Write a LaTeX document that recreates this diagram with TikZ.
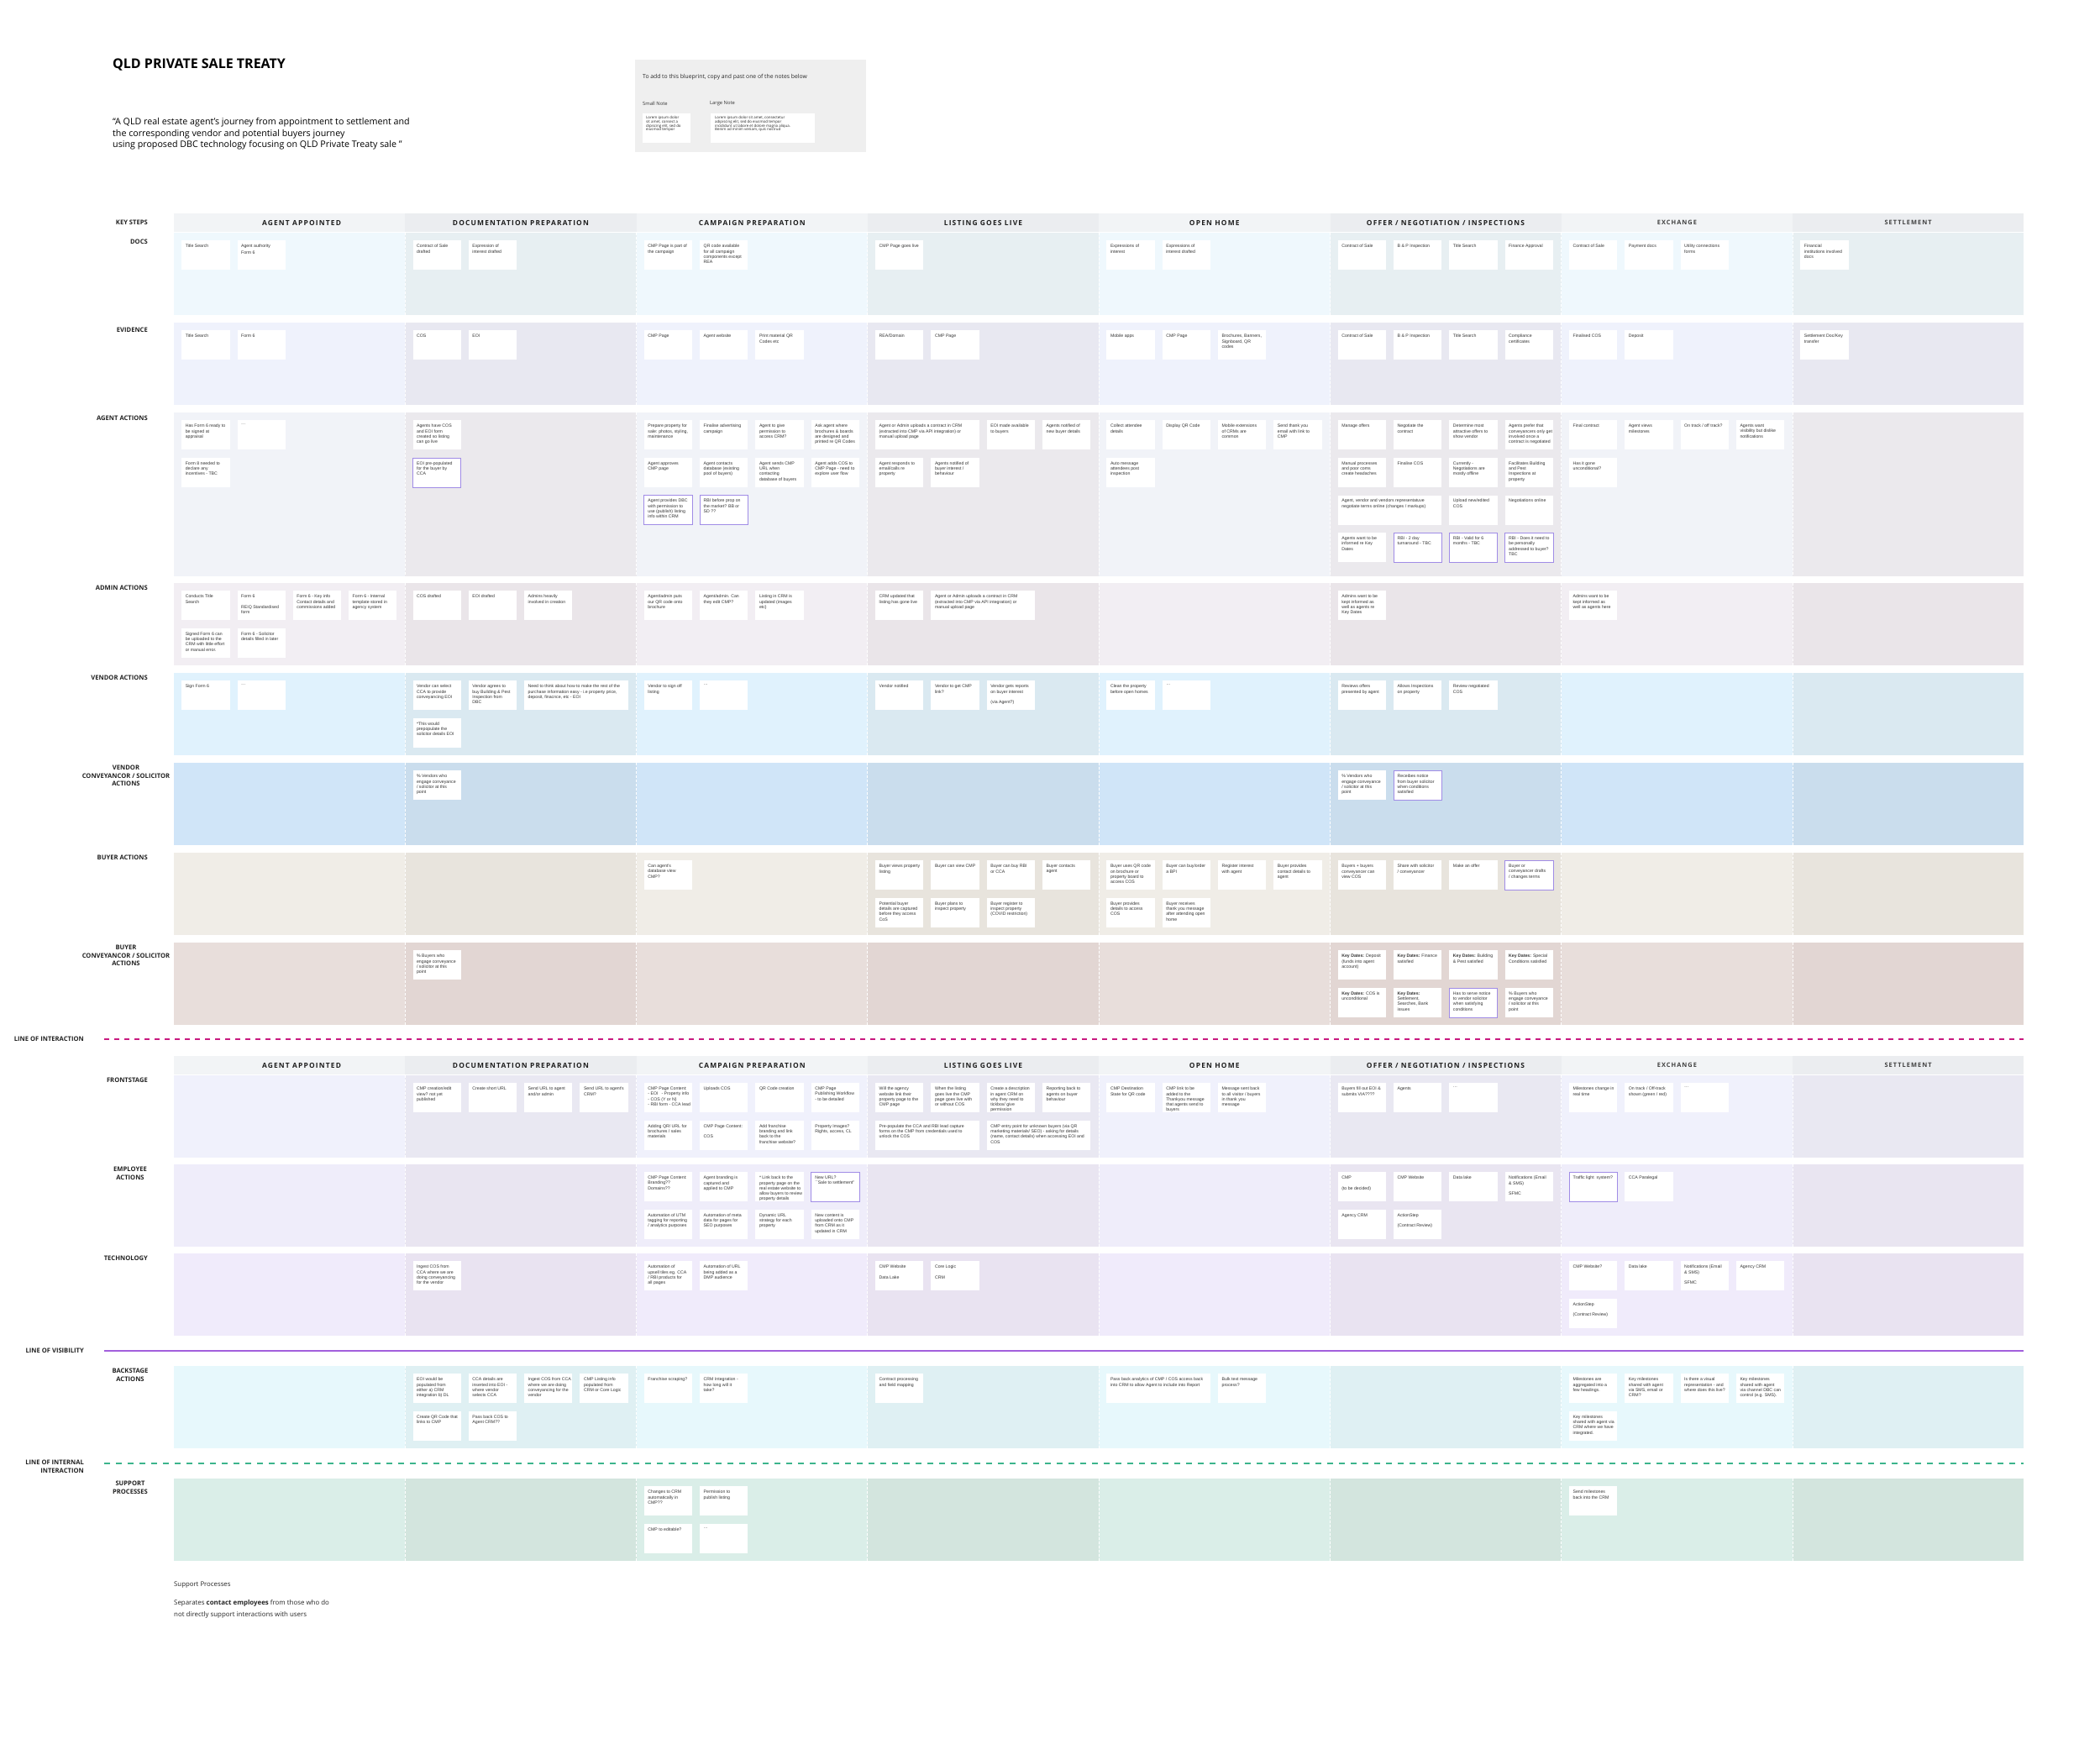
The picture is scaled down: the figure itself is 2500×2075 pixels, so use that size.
\documentclass[tikz,border=0pt]{standalone}
\usepackage{fontspec}
\setmainfont{Open Sans}
\newfontfamily\notefam{Liberation Sans}
\newfontfamily\spacedfam[LetterSpace=14]{Open Sans}
\usetikzlibrary{calc}

\definecolor{hdrE}{HTML}{F2F4F6}\definecolor{hdrO}{HTML}{EBEDF0}
\definecolor{docE}{HTML}{EFF8FD}\definecolor{docO}{HTML}{E7EFF2}
\definecolor{evE}{HTML}{EFF2FC}\definecolor{evO}{HTML}{E8E8F1}
\definecolor{agE}{HTML}{F1F3F8}\definecolor{agO}{HTML}{EBE9ED}
\definecolor{adE}{HTML}{F2EEF3}\definecolor{adO}{HTML}{EAE5E9}
\definecolor{veE}{HTML}{E0F2FD}\definecolor{veO}{HTML}{DAE9F1}
\definecolor{vcE}{HTML}{D0E5F8}\definecolor{vcO}{HTML}{CADDED}
\definecolor{buE}{HTML}{F0EDE7}\definecolor{buO}{HTML}{E8E4DD}
\definecolor{bcE}{HTML}{E8DEDB}\definecolor{bcO}{HTML}{E2D6D3}
\definecolor{frE}{HTML}{F0F1FC}\definecolor{frO}{HTML}{E9E8F2}
\definecolor{emE}{HTML}{EFEDFA}\definecolor{emO}{HTML}{E9E5F1}
\definecolor{teE}{HTML}{F0EBFB}\definecolor{teO}{HTML}{E9E3F1}
\definecolor{baE}{HTML}{E7F8FC}\definecolor{baO}{HTML}{DFF0F3}
\definecolor{suE}{HTML}{DAEEE8}\definecolor{suO}{HTML}{D3E5DE}
\definecolor{hlc}{HTML}{A08CE6}
\definecolor{notec}{HTML}{333333}
\definecolor{headc}{HTML}{1E1E1E}
\definecolor{lblc}{HTML}{222222}
\definecolor{boxc}{HTML}{EFEFEF}
\definecolor{loic}{HTML}{C8197F}
\definecolor{lovc}{HTML}{A25FDC}
\definecolor{liic}{HTML}{3CB48C}

\tikzset{
  note/.style={anchor=north west, minimum width=57.3pt, minimum height=35pt, inner sep=0pt, outer sep=0pt, fill=white},
  wide/.style={minimum width=123.6pt},
  hl/.style={draw=hlc, line width=0.8pt},
  notetxt/.style={anchor=north west, inner sep=0pt, align=left, font=\notefam\fontsize{5.2}{6.3}\selectfont, text=notec},
  colhead/.style={font=\spacedfam\bfseries\fontsize{8.4}{10}\selectfont, text=headc, inner sep=0pt},
  colheadsm/.style={font=\spacedfam\bfseries\fontsize{7.4}{9}\selectfont, text=headc!85, inner sep=0pt},
  rowlbl/.style={anchor=north east, align=right, font=\bfseries\fontsize{7.6}{9.6}\selectfont, text=lblc, inner sep=0pt},
  divider/.style={white, line width=0.9pt, dash pattern=on 2.5pt off 2.5pt},
  txt/.style={inner sep=0pt, text=black},
}

\newcounter{nn}
\newcommand\nt[6][]{\stepcounter{nn}\edef\curn{\arabic{nn}}%
  \node[note,#1] (n\curn) at ({207+275.3*#2+9.2+66.3*#3},{#4+9.4+44.6*#5}) {};%
  \node[notetxt] (t\curn) at ([xshift=4.4pt,yshift=-4.4pt]n\curn.north west) {#6};}

\newcommand\band[4]{%
  \fill[#3] (207,#1) rectangle (2409.4,#1+#2);
  \foreach \c in {1,3,5,7} \fill[#4] ({207+275.3*\c},#1) rectangle ++(275.3,#2);
  \foreach \c in {1,...,7} \draw[divider] ({207+275.3*\c},#1) -- ++(0,#2);
}
\newcommand\hband[1]{%
  \fill[hdrE] (207,#1) rectangle (2409.4,#1+21.5);
  \foreach \c in {1,3,5,7} \fill[hdrO] ({207+275.3*\c},#1) rectangle ++(275.3,21.5);
}

\def\RowDoc{277}\def\RowEv{384}\def\RowAg{491}\def\RowAd{694}\def\RowVe{801}
\def\RowVc{908}\def\RowBu{1015}\def\RowBc{1122}
\def\RowFr{1280}\def\RowEm{1386}\def\RowTe{1492}\def\RowBa{1626}\def\RowSu{1760}

\begin{document}
\begin{tikzpicture}[x=1pt,y=-1pt]
\useasboundingbox[fill=white] (0,0) rectangle (2500,2075);

% ---------- title area ----------
\node[txt, anchor=west, font=\bfseries\fontsize{16}{19}\selectfont] (title) at (134,77) {QLD PRIVATE SALE TREATY};
\node[txt, anchor=north west, align=left, font=\fontsize{10.7}{13.8}\selectfont] (quote) at (134,140)
  {``A QLD real estate agent's journey from appointment to settlement and\\the corresponding vendor and potential buyers journey\\using proposed DBC technology focusing on QLD Private Treaty sale ''};

\node[fill=boxc, anchor=north west, minimum width=275pt, minimum height=110pt, inner sep=0pt] (infobox) at (756,71) {};
\node[txt, anchor=west, font=\fontsize{6.8}{8}\selectfont, text=black!85] (infotxt) at (765,92) {To add to this blueprint, copy and past one of the notes below};
\node[txt, anchor=west, font=\fontsize{5.8}{7}\selectfont, text=black!80] (smallh) at (765,123) {Small Note};
\node[txt, anchor=west, font=\fontsize{5.8}{7}\selectfont, text=black!80] (largeh) at (845,123) {Large Note};
\node[fill=white, anchor=north west, minimum width=57.3pt, minimum height=35.7pt, inner sep=0pt] (smalln) at (764.7,134.3) {};
\node[fill=white, anchor=north west, minimum width=124pt, minimum height=35.7pt, inner sep=0pt] (largen) at (846,134.3) {};
\node[txt, anchor=north west, align=left, font=\fontsize{4.4}{4.7}\selectfont, text=black!85] (smallt) at (769,138.3)
  {Lorem ipsum dolor\\sit amet, consect a\\dipiscing elit, sed do\\eiusmod tempor};
\node[txt, anchor=north west, align=left, font=\fontsize{4.4}{4.7}\selectfont, text=black!85] (larget) at (851,138.3)
  {Lorem ipsum dolor sit amet, consectetur\\adipiscing elit, sed do eiusmod tempor\\incididunt ut labore et dolore magna aliqua.\\Benim ad minim veniam, quis nostrud};

% ---------- bands ----------
\hband{254}
\band{\RowDoc}{98}{docE}{docO}
\band{\RowEv}{98}{evE}{evO}
\band{\RowAg}{195}{agE}{agO}
\band{\RowAd}{98}{adE}{adO}
\band{\RowVe}{98}{veE}{veO}
\band{\RowVc}{98}{vcE}{vcO}
\band{\RowBu}{98}{buE}{buO}
\band{\RowBc}{98}{bcE}{bcO}
\hband{1257}
\band{\RowFr}{98}{frE}{frO}
\band{\RowEm}{98}{emE}{emO}
\band{\RowTe}{98}{teE}{teO}
\band{\RowBa}{98}{baE}{baO}
\band{\RowSu}{98}{suE}{suO}

% ---------- column headers ----------
\foreach \y/\s in {265/a,1268/b}{
  \node[colhead] (hA\s) at (359,\y) {AGENT APPOINTED};
  \node[colhead] (hB\s) at (619.9,\y) {DOCUMENTATION PREPARATION};
  \node[colhead] (hC\s) at (895.3,\y) {CAMPAIGN PREPARATION};
  \node[colhead] (hD\s) at (1170.5,\y) {LISTING GOES LIVE};
  \node[colhead] (hE\s) at (1445.8,\y) {OPEN HOME};
  \node[colhead] (hF\s) at (1721,\y) {OFFER / NEGOTIATION / INSPECTIONS};
  \node[colheadsm] (hG\s) at (1996.4,\y) {EXCHANGE};
  \node[colheadsm] (hH\s) at (2271.6,\y) {SETTLEMENT};
}

% ---------- row labels ----------
\node[rowlbl, anchor=east] (lKey) at (176,265) {KEY STEPS};
\node[rowlbl] (lDoc) at (176,\RowDoc+8) {DOCS};
\node[rowlbl] (lEv) at (176,\RowEv+6) {EVIDENCE};
\node[rowlbl] (lAg) at (176,\RowAg+4) {AGENT ACTIONS};
\node[rowlbl] (lAd) at (176,\RowAd+3) {ADMIN ACTIONS};
\node[rowlbl] (lVe) at (176,\RowVe+3) {VENDOR ACTIONS};
\node[rowlbl, align=center, anchor=north] (lVc) at (150,\RowVc+3) {VENDOR\\CONVEYANCOR / SOLICITOR\\ACTIONS};
\node[rowlbl] (lBu) at (176,\RowBu+3) {BUYER ACTIONS};
\node[rowlbl, align=center, anchor=north] (lBc) at (150,\RowBc+3) {BUYER\\CONVEYANCOR / SOLICITOR\\ACTIONS};
\node[rowlbl] (lFr) at (176,\RowFr+3) {FRONTSTAGE};
\node[rowlbl, align=center, anchor=north] (lEm) at (155,\RowEm+3) {EMPLOYEE\\ACTIONS};
\node[rowlbl] (lTe) at (176,\RowTe+3) {TECHNOLOGY};
\node[rowlbl, align=center, anchor=north] (lBa) at (155,\RowBa+3) {BACKSTAGE\\ACTIONS};
\node[rowlbl, align=center, anchor=north] (lSu) at (155,\RowSu+3) {SUPPORT\\PROCESSES};

% ---------- lines ----------
\coordinate (loiA) at (124,1237); \coordinate (loiB) at (2409,1237);
\draw[loic, line width=2.6pt, dash pattern=on 6pt off 6pt] (loiA) -- (loiB);
\node[rowlbl, anchor=east] (lLoi) at (100,1237) {LINE OF INTERACTION};
\coordinate (lovA) at (124,1608); \coordinate (lovB) at (2409,1608);
\draw[lovc, line width=2pt] (lovA) -- (lovB);
\node[rowlbl, anchor=east] (lLov) at (100,1608) {LINE OF VISIBILITY};
\coordinate (liiA) at (124,1742); \coordinate (liiB) at (2409,1742);
\draw[liic, line width=2pt, dash pattern=on 7pt off 7pt] (liiA) -- (liiB);
\node[rowlbl, anchor=north east] (lLii) at (100,1738) {LINE OF INTERNAL\\INTERACTION};

% ---------- footnote ----------
\node[txt, anchor=west, font=\fontsize{7.8}{10}\selectfont, text=black!85] (fn1) at (207,1887) {Support Processes};
\node[txt, anchor=north west, align=left, font=\fontsize{7.9}{14}\selectfont, text=black!85] (fn2) at (207,1904)
  {Separates \textbf{contact employees} from those who do\\not directly support interactions with users};

% ================= NOTES =================
% --- col 0: agent appointed
\nt{0}{0}{\RowDoc}{0}{Title Search}
\nt{0}{1}{\RowDoc}{0}{Agent authority\\[1.6pt]Form 6}
\nt{0}{0}{\RowEv}{0}{Title Search}
\nt{0}{1}{\RowEv}{0}{Form 6}
\nt{0}{0}{\RowAg}{0}{Has Form 6 ready to\\be signed at\\appraisal}
\nt{0}{1}{\RowAg}{0}{…}
\nt{0}{0}{\RowAg}{1}{Form 8 needed to\\declare any\\incentives - TBC}
\nt{0}{0}{\RowAd}{0}{Conducts Title\\Search}
\nt{0}{1}{\RowAd}{0}{Form 6\\[6.3pt]REIQ Standardised\\form}
\nt{0}{2}{\RowAd}{0}{Form 6 - Key info\\Contact details and\\commissions added}
\nt{0}{3}{\RowAd}{0}{Form 6 - Internal\\template stored in\\agency system}
\nt{0}{0}{\RowAd}{1}{Signed Form 6 can\\be uploaded to the\\CRM with little effort\\or manual error.}
\nt{0}{1}{\RowAd}{1}{Form 6 - Solicitor\\details filled in later}
\nt{0}{0}{\RowVe}{0}{Sign Form 6}
\nt{0}{1}{\RowVe}{0}{…}

% --- col 1: documentation preparation
\nt{1}{0}{\RowDoc}{0}{Contract of Sale\\drafted}
\nt{1}{1}{\RowDoc}{0}{Expression of\\interest drafted}
\nt{1}{0}{\RowEv}{0}{COS}
\nt{1}{1}{\RowEv}{0}{EOI}
\nt{1}{0}{\RowAg}{0}{Agents have COS\\and EOI form\\created so listing\\can go live}
\nt[hl]{1}{0}{\RowAg}{1}{EOI pre-populated\\for the buyer by\\CCA}
\nt{1}{0}{\RowAd}{0}{COS drafted}
\nt{1}{1}{\RowAd}{0}{EOI drafted}
\nt{1}{2}{\RowAd}{0}{Admins heavily\\involved in creation}
\nt{1}{0}{\RowVe}{0}{Vendor can select\\CCA to provide\\conveyancing EOI}
\nt{1}{1}{\RowVe}{0}{Vendor agrees to\\buy Building \& Pest\\Inspection from\\DBC}
\nt[wide]{1}{2}{\RowVe}{0}{Need to think about how to make the rest of the\\purchase information easy - i.e property price,\\deposit, finacnce, etc - EOI}
\nt{1}{0}{\RowVe}{1}{*This would\\prepopulate the\\solicitor details EOI}
\nt{1}{0}{\RowVc}{0}{\% Vendors who\\engage conveyance\\/ solicitor at this\\point}
\nt{1}{0}{\RowBc}{0}{\% Buyers who\\engage conveyance\\/ solicitor at this\\point}
\nt{1}{0}{\RowFr}{0}{CMP creation/edit\\view? not yet\\published}
\nt{1}{1}{\RowFr}{0}{Create short URL}
\nt{1}{2}{\RowFr}{0}{Send URL to agent\\and/or admin}
\nt{1}{3}{\RowFr}{0}{Send URL to agent's\\CRM?}
\nt{1}{0}{\RowTe}{0}{Ingest COS from\\CCA where we are\\doing conveyancing\\for the vendor}
\nt{1}{0}{\RowBa}{0}{EOI would be\\populated from\\either a) CRM\\integration b) DL}
\nt{1}{1}{\RowBa}{0}{CCA details are\\inserted into EOI -\\where vendor\\selects CCA}
\nt{1}{2}{\RowBa}{0}{Ingest COS from CCA\\where we are doing\\conveyancing for the\\vendor}
\nt{1}{3}{\RowBa}{0}{CMP Listing info\\populated from\\CRM or Core Logic}
\nt{1}{0}{\RowBa}{1}{Create QR Code that\\links to CMP}
\nt{1}{1}{\RowBa}{1}{Pass back COS to\\Agent CRM??}

% --- col 2: campaign preparation
\nt{2}{0}{\RowDoc}{0}{CMP Page is part of\\the campaign}
\nt{2}{1}{\RowDoc}{0}{QR code available\\for all campaign\\components except\\REA}
\nt{2}{0}{\RowEv}{0}{CMP Page}
\nt{2}{1}{\RowEv}{0}{Agent website}
\nt{2}{2}{\RowEv}{0}{Print material QR\\Codes etc}
\nt{2}{0}{\RowAg}{0}{Prepare property for\\sale: photos, styling,\\maintenance}
\nt{2}{1}{\RowAg}{0}{Finalise advertising\\campaign}
\nt{2}{2}{\RowAg}{0}{Agent to give\\permission to\\access CRM?}
\nt{2}{3}{\RowAg}{0}{Ask agent where\\brochures \& boards\\are designed and\\printed re QR Codes}
\nt{2}{0}{\RowAg}{1}{Agent approves\\CMP page}
\nt{2}{1}{\RowAg}{1}{Agent contacts\\database (existing\\pool of buyers)}
\nt{2}{2}{\RowAg}{1}{Agent sends CMP\\URL when\\contacting\\database of buyers}
\nt{2}{3}{\RowAg}{1}{Agent adds COS to\\CMP Page - need to\\explore user flow}
\nt[hl]{2}{0}{\RowAg}{2}{Agent provides DBC\\with permission to\\use (publish) listing\\info within CRM}
\nt[hl]{2}{1}{\RowAg}{2}{RBI before prop on\\the market? BB or\\SD ??}
\nt{2}{0}{\RowAd}{0}{Agent/admin puts\\our QR code onto\\brochure}
\nt{2}{1}{\RowAd}{0}{Agent/admin. Can\\they edit CMP?}
\nt{2}{2}{\RowAd}{0}{Listing in CRM is\\updated (images\\etc)}
\nt{2}{0}{\RowVe}{0}{Vendor to sign off\\listing}
\nt{2}{1}{\RowVe}{0}{…}
\nt{2}{0}{\RowBu}{0}{Can agent's\\database view\\CMP?}
\nt{2}{0}{\RowFr}{0}{CMP Page Content:\\- EOI\hspace{4pt}- Property info\\- COS (Y or N)\\- RBI form - CCA lead}
\nt{2}{1}{\RowFr}{0}{Uploads COS}
\nt{2}{2}{\RowFr}{0}{QR Code creation}
\nt{2}{3}{\RowFr}{0}{CMP Page\\Publishing Workflow\\- to be detailed}
\nt{2}{0}{\RowFr}{1}{Adding QR/ URL for\\brochures / sales\\materials}
\nt{2}{1}{\RowFr}{1}{CMP Page Content:\\[6.3pt]COS}
\nt{2}{2}{\RowFr}{1}{Add franchise\\branding and link\\back to the\\franchise website?}
\nt{2}{3}{\RowFr}{1}{Property Images?\\Rights, access, CL}
\nt{2}{0}{\RowEm}{0}{CMP Page Content:\\Branding??\\Domains??}
\nt{2}{1}{\RowEm}{0}{Agent branding is\\captured and\\applied to CMP}
\nt{2}{2}{\RowEm}{0}{* Link back to the\\property page on the\\real estate website to\\allow buyers to review\\property details}
\nt[hl]{2}{3}{\RowEm}{0}{New URL?\\``Sale to settlement''}
\nt{2}{0}{\RowEm}{1}{Automation of UTM\\tagging for reporting\\/ analytics purposes}
\nt{2}{1}{\RowEm}{1}{Automation of meta\\data for pages for\\SEO purposes}
\nt{2}{2}{\RowEm}{1}{Dynamic URL\\strategy for each\\property}
\nt{2}{3}{\RowEm}{1}{New content is\\uploaded onto CMP\\from CRM as it\\updated in CRM}
\nt{2}{0}{\RowTe}{0}{Automation of\\upsell tiles eg. CCA\\/ RBI products for\\all pages}
\nt{2}{1}{\RowTe}{0}{Automation of URL\\being added as a\\DMP audience}
\nt{2}{0}{\RowBa}{0}{Franchise scraping?}
\nt{2}{1}{\RowBa}{0}{CRM Integration -\\how long will it\\take?}
\nt{2}{0}{\RowSu}{0}{Changes to CRM\\automatically in\\CMP??}
\nt{2}{1}{\RowSu}{0}{Permission to\\publish listing}
\nt{2}{0}{\RowSu}{1}{CMP to editable?}
\nt{2}{1}{\RowSu}{1}{…}

% --- col 3: listing goes live
\nt{3}{0}{\RowDoc}{0}{CMP Page goes live}
\nt{3}{0}{\RowEv}{0}{REA/Domain}
\nt{3}{1}{\RowEv}{0}{CMP Page}
\nt[wide]{3}{0}{\RowAg}{0}{Agent or Admin uploads a contract in CRM\\(extracted into CMP via API integration) or\\manual upload page}
\nt{3}{2}{\RowAg}{0}{EOI made available\\to buyers}
\nt{3}{3}{\RowAg}{0}{Agents notified of\\new buyer details}
\nt{3}{0}{\RowAg}{1}{Agent responds to\\email/calls re\\property}
\nt{3}{1}{\RowAg}{1}{Agents notified of\\buyer interest /\\behaviour}
\nt{3}{0}{\RowAd}{0}{CRM updated that\\listing has gone live}
\nt[wide]{3}{1}{\RowAd}{0}{Agent or Admin uploads a contract in CRM\\(extracted into CMP via API integration) or\\manual upload page}
\nt{3}{0}{\RowVe}{0}{Vendor notified}
\nt{3}{1}{\RowVe}{0}{Vendor to get CMP\\link?}
\nt{3}{2}{\RowVe}{0}{Vendor gets reports\\on buyer interest\\[6.3pt](via Agent?)}
\nt{3}{0}{\RowBu}{0}{Buyer views property\\listing}
\nt{3}{1}{\RowBu}{0}{Buyer can view CMP}
\nt{3}{2}{\RowBu}{0}{Buyer can buy RBI\\or CCA}
\nt{3}{3}{\RowBu}{0}{Buyer contacts\\agent}
\nt{3}{0}{\RowBu}{1}{Potential buyer\\details are captured\\before they access\\CoS}
\nt{3}{1}{\RowBu}{1}{Buyer plans to\\inspect property}
\nt{3}{2}{\RowBu}{1}{Buyer register to\\inspect property\\(COVID restriction)}
\nt{3}{0}{\RowFr}{0}{Will the agency\\website link their\\property page to the\\CMP page}
\nt{3}{1}{\RowFr}{0}{When the listing\\goes live the CMP\\page goes live with\\or without COS}
\nt{3}{2}{\RowFr}{0}{Create a description\\in agent CRM on\\why they need to\\tickbox/ give\\permission}
\nt{3}{3}{\RowFr}{0}{Reporting back to\\agents on buyer\\behaviour}
\nt[wide]{3}{0}{\RowFr}{1}{Pre-populate the CCA and RBI lead capture\\forms on the CMP from credentials used to\\unlock the COS}
\nt[wide]{3}{2}{\RowFr}{1}{CMP entry point for unknown buyers (via QR\\marketing materials/ SEO) - asking for details\\(name, contact details) when accessing EOI and\\COS}
\nt{3}{0}{\RowTe}{0}{CMP Website\\[6.3pt]Data Lake}
\nt{3}{1}{\RowTe}{0}{Core Logic\\[6.3pt]CRM}
\nt{3}{0}{\RowBa}{0}{Contract processing\\and field mapping}

% --- col 4: open home
\nt{4}{0}{\RowDoc}{0}{Expressions of\\interest}
\nt{4}{1}{\RowDoc}{0}{Expressions of\\interest drafted}
\nt{4}{0}{\RowEv}{0}{Mobile apps}
\nt{4}{1}{\RowEv}{0}{CMP Page}
\nt{4}{2}{\RowEv}{0}{Brochures, Banners,\\Signboard, QR\\codes}
\nt{4}{0}{\RowAg}{0}{Collect attendee\\details}
\nt{4}{1}{\RowAg}{0}{Display QR Code}
\nt{4}{2}{\RowAg}{0}{Mobile extensions\\of CRMs are\\common}
\nt{4}{3}{\RowAg}{0}{Send thank you\\email with link to\\CMP}
\nt{4}{0}{\RowAg}{1}{Auto message\\attendees post\\inspection}
\nt{4}{0}{\RowVe}{0}{Clean the property\\before open homes}
\nt{4}{1}{\RowVe}{0}{…}
\nt{4}{0}{\RowBu}{0}{Buyer uses QR code\\on brochure or\\property board to\\access COS}
\nt{4}{1}{\RowBu}{0}{Buyer can buy/order\\a BPI}
\nt{4}{2}{\RowBu}{0}{Register interest\\with agent}
\nt{4}{3}{\RowBu}{0}{Buyer provides\\contact details to\\agent}
\nt{4}{0}{\RowBu}{1}{Buyer provides\\details to access\\COS}
\nt{4}{1}{\RowBu}{1}{Buyer receives\\thank you message\\after attending open\\home}
\nt{4}{0}{\RowFr}{0}{CMP Destination\\State for QR code}
\nt{4}{1}{\RowFr}{0}{CMP link to be\\added to the\\Thankyou message\\that agents send to\\buyers}
\nt{4}{2}{\RowFr}{0}{Message sent back\\to all visitor / buyers\\in thank you\\message}
\nt[wide]{4}{0}{\RowBa}{0}{Pass back analytics of CMP / COS access back\\into CRM to allow Agent to include into Report}
\nt{4}{2}{\RowBa}{0}{Bulk text message\\process?}

% --- col 5: offer / negotiation / inspections
\nt{5}{0}{\RowDoc}{0}{Contract of Sale}
\nt{5}{1}{\RowDoc}{0}{B \& P Inspection}
\nt{5}{2}{\RowDoc}{0}{Title Search}
\nt{5}{3}{\RowDoc}{0}{Finance Approval}
\nt{5}{0}{\RowEv}{0}{Contract of Sale}
\nt{5}{1}{\RowEv}{0}{B \& P Inspection}
\nt{5}{2}{\RowEv}{0}{Title Search}
\nt{5}{3}{\RowEv}{0}{Compliance\\certificates}
\nt{5}{0}{\RowAg}{0}{Manage offers}
\nt{5}{1}{\RowAg}{0}{Negotiate the\\contract}
\nt{5}{2}{\RowAg}{0}{Determine most\\attractive offers to\\show vendor}
\nt{5}{3}{\RowAg}{0}{Agents prefer that\\conveyancers only get\\involved once a\\contract is negotiated}
\nt{5}{0}{\RowAg}{1}{Manual processes\\and poor coms\\create headaches}
\nt{5}{1}{\RowAg}{1}{Finalise COS}
\nt{5}{2}{\RowAg}{1}{Currently -\\Negotiations are\\mostly offline}
\nt{5}{3}{\RowAg}{1}{Facilitates Building\\and Pest\\Inspections at\\property}
\nt[wide]{5}{0}{\RowAg}{2}{Agent, vendor and vendors representatuve\\negotiate terms online (changes / markups)}
\nt{5}{2}{\RowAg}{2}{Upload new/edited\\COS}
\nt{5}{3}{\RowAg}{2}{Negotiations online}
\nt{5}{0}{\RowAg}{3}{Agents want to be\\informed re Key\\Dates}
\nt[hl]{5}{1}{\RowAg}{3}{RBI - 2 day\\turnaround - TBC}
\nt[hl]{5}{2}{\RowAg}{3}{RBI - Valid for 6\\months - TBC}
\nt[hl]{5}{3}{\RowAg}{3}{RBI - Does it need to\\be personally\\addressed to buyer?\\TBC}
\nt{5}{0}{\RowAd}{0}{Admins want to be\\kept informed as\\well as agents re\\Key Dates}
\nt{5}{0}{\RowVe}{0}{Reviews offers\\presented by agent}
\nt{5}{1}{\RowVe}{0}{Allows Inspections\\on property}
\nt{5}{2}{\RowVe}{0}{Review negotiated\\COS}
\nt{5}{0}{\RowVc}{0}{\% Vendors who\\engage conveyance\\/ solicitor at this\\point}
\nt[hl]{5}{1}{\RowVc}{0}{Receibes notice\\from buyer solicitor\\when conditions\\satisfied}
\nt{5}{0}{\RowBu}{0}{Buyers + buyers\\conveyancer can\\view COS}
\nt{5}{1}{\RowBu}{0}{Share with solicitor\\/ conveyancer}
\nt{5}{2}{\RowBu}{0}{Make an offer}
\nt[hl]{5}{3}{\RowBu}{0}{Buyer or\\conveyancer drafts\\/ changes terms}
\nt{5}{0}{\RowBc}{0}{\textbf{Key Dates:} Deposit\\(funds into agent\\account)}
\nt{5}{1}{\RowBc}{0}{\textbf{Key Dates:} Finance\\satisfied}
\nt{5}{2}{\RowBc}{0}{\textbf{Key Dates:} Building\\\& Pest satisfied}
\nt{5}{3}{\RowBc}{0}{\textbf{Key Dates:} Special\\Conditions satisfied}
\nt{5}{0}{\RowBc}{1}{\textbf{Key Dates:} COS is\\unconditional}
\nt{5}{1}{\RowBc}{1}{\textbf{Key Dates:}\\Settlement,\\Searches, Bank\\issues}
\nt[hl]{5}{2}{\RowBc}{1}{Has to serve notice\\to vendor solicitor\\when satisfying\\conditions}
\nt{5}{3}{\RowBc}{1}{\% Buyers who\\engage conveyance\\/ solicitor at this\\point}
\nt{5}{0}{\RowFr}{0}{Buyers fill out EOI \&\\submits VIA????}
\nt{5}{1}{\RowFr}{0}{Agents}
\nt{5}{2}{\RowFr}{0}{…}
\nt{5}{0}{\RowEm}{0}{CMP\\[6.3pt](to be decided)}
\nt{5}{1}{\RowEm}{0}{CMP Website}
\nt{5}{2}{\RowEm}{0}{Data lake}
\nt{5}{3}{\RowEm}{0}{Notifications (Email\\\& SMS)\\[6.3pt]SFMC}
\nt{5}{0}{\RowEm}{1}{Agency CRM}
\nt{5}{1}{\RowEm}{1}{ActionStep\\[6.3pt](Contract Review)}

% --- col 6: exchange
\nt{6}{0}{\RowDoc}{0}{Contract of Sale}
\nt{6}{1}{\RowDoc}{0}{Payment docs}
\nt{6}{2}{\RowDoc}{0}{Utility connections\\forms}
\nt{6}{0}{\RowEv}{0}{Finalised COS}
\nt{6}{1}{\RowEv}{0}{Deposit}
\nt{6}{0}{\RowAg}{0}{Final contract}
\nt{6}{1}{\RowAg}{0}{Agent views\\milestones}
\nt{6}{2}{\RowAg}{0}{On track / off track?}
\nt{6}{3}{\RowAg}{0}{Agents want\\visibility but dislike\\notifications}
\nt{6}{0}{\RowAg}{1}{Has it gone\\unconditional?}
\nt{6}{0}{\RowAd}{0}{Admins want to be\\kept informed as\\well as agents here}
\nt{6}{0}{\RowFr}{0}{Milestones change in\\real time}
\nt{6}{1}{\RowFr}{0}{On track / Off-track\\shown (green / red)}
\nt{6}{2}{\RowFr}{0}{…}
\nt[hl]{6}{0}{\RowEm}{0}{Traffic light\ \ system?}
\nt{6}{1}{\RowEm}{0}{CCA Paralegal}
\nt{6}{0}{\RowTe}{0}{CMP Website?}
\nt{6}{1}{\RowTe}{0}{Data lake}
\nt{6}{2}{\RowTe}{0}{Notifications (Email\\\& SMS)\\[6.3pt]SFMC}
\nt{6}{3}{\RowTe}{0}{Agency CRM}
\nt{6}{0}{\RowTe}{1}{ActionStep\\[6.3pt](Contract Review)}
\nt{6}{0}{\RowBa}{0}{Milestones are\\aggregated into a\\few headings.}
\nt{6}{1}{\RowBa}{0}{Key milestones\\shared with agent\\via SMS, email or\\CRM?}
\nt{6}{2}{\RowBa}{0}{Is there a visual\\representation - and\\where does this live?}
\nt{6}{3}{\RowBa}{0}{Key milestones\\shared with agent\\via channel DBC can\\control (e.g. SMS).}
\nt{6}{0}{\RowBa}{1}{Key milestones\\shared with agent via\\CRM where we have\\integrated.}
\nt{6}{0}{\RowSu}{0}{Send milestones\\back into the CRM}

% --- col 7: settlement
\nt{7}{0}{\RowDoc}{0}{Financial\\institutions involved\\docs}
\nt{7}{0}{\RowEv}{0}{Settlement Doc/Key\\transfer}

\end{tikzpicture}
\end{document}
